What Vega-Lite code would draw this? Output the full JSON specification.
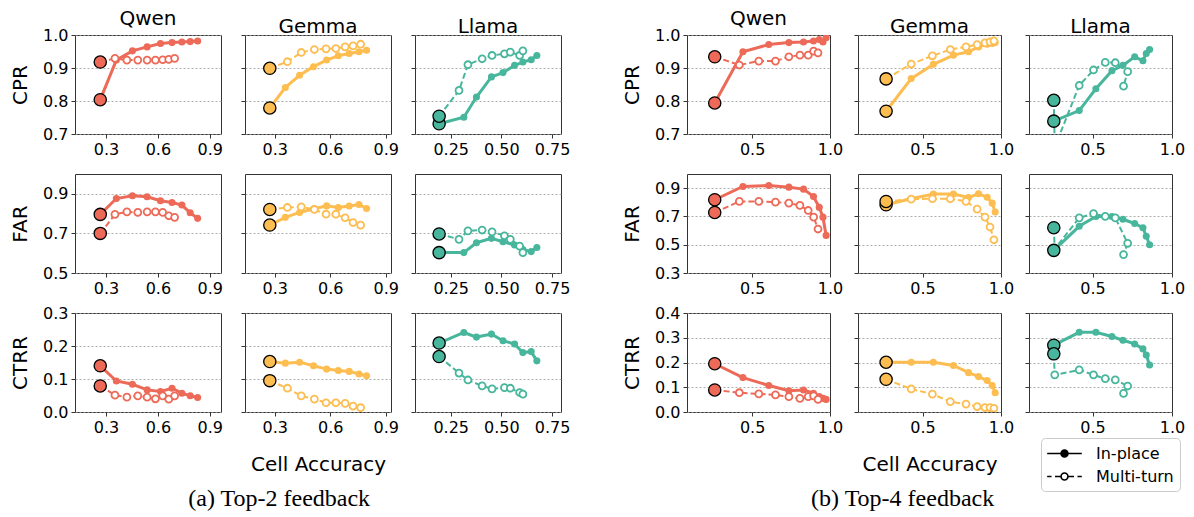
{
"$schema":"https://vega.github.io/schema/vega-lite/v6.json",
"background":"white",
"padding":{"left":10,"top":8,"right":4,"bottom":4},
"config":{
"font":"DejaVu Sans",
"view":{"stroke":"#333","strokeWidth":1},
"axis":{"domain":false,"tickColor":"#333","tickSize":4,"tickWidth":1,"labelFont":"DejaVu Sans","labelFontSize":16,"labelColor":"#000","labelPadding":3,"labelFlush":false,"labelOverlap":false,"titleFont":"DejaVu Sans","titleFontSize":20,"titleFontWeight":"normal","titleColor":"#000"},
"axisX":{"grid":false},
"axisY":{"grid":true,"gridDash":[2,2],"gridColor":"#999","gridWidth":0.8,"titlePadding":12},
"title":{"font":"DejaVu Sans","fontSize":20,"fontWeight":"normal","color":"#000","offset":-2,"anchor":"middle"}
},
"datasets":{"d":[
{"g":"a","m":"Qwen","t":"In-place","i":0,"x":0.267,"CPR":0.804,"FAR":0.796,"CTRR":0.140},
{"g":"a","m":"Qwen","t":"In-place","i":1,"x":0.36,"CPR":0.924,"FAR":0.876,"CTRR":0.094},
{"g":"a","m":"Qwen","t":"In-place","i":2,"x":0.453,"CPR":0.952,"FAR":0.890,"CTRR":0.084},
{"g":"a","m":"Qwen","t":"In-place","i":3,"x":0.538,"CPR":0.964,"FAR":0.885,"CTRR":0.067},
{"g":"a","m":"Qwen","t":"In-place","i":4,"x":0.615,"CPR":0.974,"FAR":0.865,"CTRR":0.062},
{"g":"a","m":"Qwen","t":"In-place","i":5,"x":0.682,"CPR":0.977,"FAR":0.856,"CTRR":0.072},
{"g":"a","m":"Qwen","t":"In-place","i":6,"x":0.739,"CPR":0.979,"FAR":0.843,"CTRR":0.057},
{"g":"a","m":"Qwen","t":"In-place","i":7,"x":0.787,"CPR":0.980,"FAR":0.804,"CTRR":0.049},
{"g":"a","m":"Qwen","t":"In-place","i":8,"x":0.83,"CPR":0.982,"FAR":0.776,"CTRR":0.044},
{"g":"a","m":"Qwen","t":"Multi-turn","i":0,"x":0.267,"CPR":0.918,"FAR":0.700,"CTRR":0.079},
{"g":"a","m":"Qwen","t":"Multi-turn","i":1,"x":0.352,"CPR":0.929,"FAR":0.796,"CTRR":0.051},
{"g":"a","m":"Qwen","t":"Multi-turn","i":2,"x":0.421,"CPR":0.924,"FAR":0.809,"CTRR":0.045},
{"g":"a","m":"Qwen","t":"Multi-turn","i":3,"x":0.484,"CPR":0.924,"FAR":0.806,"CTRR":0.049},
{"g":"a","m":"Qwen","t":"Multi-turn","i":4,"x":0.538,"CPR":0.924,"FAR":0.809,"CTRR":0.045},
{"g":"a","m":"Qwen","t":"Multi-turn","i":5,"x":0.586,"CPR":0.924,"FAR":0.809,"CTRR":0.040},
{"g":"a","m":"Qwen","t":"Multi-turn","i":6,"x":0.628,"CPR":0.925,"FAR":0.806,"CTRR":0.049},
{"g":"a","m":"Qwen","t":"Multi-turn","i":7,"x":0.663,"CPR":0.926,"FAR":0.789,"CTRR":0.039},
{"g":"a","m":"Qwen","t":"Multi-turn","i":8,"x":0.697,"CPR":0.929,"FAR":0.781,"CTRR":0.049},
{"g":"a","m":"Gemma","t":"In-place","i":0,"x":0.273,"CPR":0.779,"FAR":0.742,"CTRR":0.153},
{"g":"a","m":"Gemma","t":"In-place","i":1,"x":0.357,"CPR":0.841,"FAR":0.781,"CTRR":0.148},
{"g":"a","m":"Gemma","t":"In-place","i":2,"x":0.434,"CPR":0.878,"FAR":0.806,"CTRR":0.151},
{"g":"a","m":"Gemma","t":"In-place","i":3,"x":0.509,"CPR":0.904,"FAR":0.823,"CTRR":0.140},
{"g":"a","m":"Gemma","t":"In-place","i":4,"x":0.580,"CPR":0.924,"FAR":0.839,"CTRR":0.130},
{"g":"a","m":"Gemma","t":"In-place","i":5,"x":0.643,"CPR":0.937,"FAR":0.831,"CTRR":0.126},
{"g":"a","m":"Gemma","t":"In-place","i":6,"x":0.702,"CPR":0.944,"FAR":0.838,"CTRR":0.123},
{"g":"a","m":"Gemma","t":"In-place","i":7,"x":0.755,"CPR":0.949,"FAR":0.846,"CTRR":0.115},
{"g":"a","m":"Gemma","t":"In-place","i":8,"x":0.796,"CPR":0.954,"FAR":0.826,"CTRR":0.110},
{"g":"a","m":"Gemma","t":"Multi-turn","i":0,"x":0.273,"CPR":0.899,"FAR":0.821,"CTRR":0.095},
{"g":"a","m":"Gemma","t":"Multi-turn","i":1,"x":0.368,"CPR":0.919,"FAR":0.831,"CTRR":0.072},
{"g":"a","m":"Gemma","t":"Multi-turn","i":2,"x":0.443,"CPR":0.947,"FAR":0.834,"CTRR":0.049},
{"g":"a","m":"Gemma","t":"Multi-turn","i":3,"x":0.514,"CPR":0.956,"FAR":0.821,"CTRR":0.039},
{"g":"a","m":"Gemma","t":"Multi-turn","i":4,"x":0.577,"CPR":0.958,"FAR":0.797,"CTRR":0.028},
{"g":"a","m":"Gemma","t":"Multi-turn","i":5,"x":0.630,"CPR":0.959,"FAR":0.797,"CTRR":0.028},
{"g":"a","m":"Gemma","t":"Multi-turn","i":6,"x":0.680,"CPR":0.964,"FAR":0.779,"CTRR":0.026},
{"g":"a","m":"Gemma","t":"Multi-turn","i":7,"x":0.723,"CPR":0.967,"FAR":0.755,"CTRR":0.018},
{"g":"a","m":"Gemma","t":"Multi-turn","i":8,"x":0.764,"CPR":0.972,"FAR":0.742,"CTRR":0.013},
{"g":"a","m":"Llama","t":"In-place","i":0,"x":0.193,"CPR":0.731,"FAR":0.603,"CTRR":0.209},
{"g":"a","m":"Llama","t":"In-place","i":1,"x":0.315,"CPR":0.751,"FAR":0.603,"CTRR":0.241},
{"g":"a","m":"Llama","t":"In-place","i":2,"x":0.377,"CPR":0.812,"FAR":0.653,"CTRR":0.227},
{"g":"a","m":"Llama","t":"In-place","i":3,"x":0.451,"CPR":0.873,"FAR":0.675,"CTRR":0.236},
{"g":"a","m":"Llama","t":"In-place","i":4,"x":0.508,"CPR":0.886,"FAR":0.658,"CTRR":0.216},
{"g":"a","m":"Llama","t":"In-place","i":5,"x":0.565,"CPR":0.908,"FAR":0.641,"CTRR":0.206},
{"g":"a","m":"Llama","t":"In-place","i":6,"x":0.606,"CPR":0.918,"FAR":0.619,"CTRR":0.180},
{"g":"a","m":"Llama","t":"In-place","i":7,"x":0.647,"CPR":0.925,"FAR":0.608,"CTRR":0.183},
{"g":"a","m":"Llama","t":"In-place","i":8,"x":0.675,"CPR":0.938,"FAR":0.629,"CTRR":0.155},
{"g":"a","m":"Llama","t":"Multi-turn","i":0,"x":0.193,"CPR":0.754,"FAR":0.697,"CTRR":0.168},
{"g":"a","m":"Llama","t":"Multi-turn","i":1,"x":0.291,"CPR":0.832,"FAR":0.670,"CTRR":0.118},
{"g":"a","m":"Llama","t":"Multi-turn","i":2,"x":0.335,"CPR":0.910,"FAR":0.713,"CTRR":0.097},
{"g":"a","m":"Llama","t":"Multi-turn","i":3,"x":0.405,"CPR":0.928,"FAR":0.717,"CTRR":0.079},
{"g":"a","m":"Llama","t":"Multi-turn","i":4,"x":0.454,"CPR":0.938,"FAR":0.708,"CTRR":0.070},
{"g":"a","m":"Llama","t":"Multi-turn","i":5,"x":0.515,"CPR":0.943,"FAR":0.688,"CTRR":0.074},
{"g":"a","m":"Llama","t":"Multi-turn","i":6,"x":0.544,"CPR":0.948,"FAR":0.670,"CTRR":0.072},
{"g":"a","m":"Llama","t":"Multi-turn","i":7,"x":0.590,"CPR":0.938,"FAR":0.636,"CTRR":0.059},
{"g":"a","m":"Llama","t":"Multi-turn","i":8,"x":0.606,"CPR":0.952,"FAR":0.603,"CTRR":0.054},
{"g":"b","m":"Qwen","t":"In-place","i":0,"x":0.260,"CPR":0.794,"FAR":0.818,"CTRR":0.195},
{"g":"b","m":"Qwen","t":"In-place","i":1,"x":0.441,"CPR":0.949,"FAR":0.912,"CTRR":0.139},
{"g":"b","m":"Qwen","t":"In-place","i":2,"x":0.607,"CPR":0.971,"FAR":0.919,"CTRR":0.107},
{"g":"b","m":"Qwen","t":"In-place","i":3,"x":0.736,"CPR":0.977,"FAR":0.907,"CTRR":0.086},
{"g":"b","m":"Qwen","t":"In-place","i":4,"x":0.830,"CPR":0.979,"FAR":0.893,"CTRR":0.089},
{"g":"b","m":"Qwen","t":"In-place","i":5,"x":0.894,"CPR":0.982,"FAR":0.841,"CTRR":0.076},
{"g":"b","m":"Qwen","t":"In-place","i":6,"x":0.931,"CPR":0.986,"FAR":0.764,"CTRR":0.062},
{"g":"b","m":"Qwen","t":"In-place","i":7,"x":0.955,"CPR":0.979,"FAR":0.695,"CTRR":0.055},
{"g":"b","m":"Qwen","t":"In-place","i":8,"x":0.975,"CPR":0.992,"FAR":0.566,"CTRR":0.051},
{"g":"b","m":"Qwen","t":"Multi-turn","i":0,"x":0.260,"CPR":0.934,"FAR":0.728,"CTRR":0.089},
{"g":"b","m":"Qwen","t":"Multi-turn","i":1,"x":0.418,"CPR":0.909,"FAR":0.806,"CTRR":0.078},
{"g":"b","m":"Qwen","t":"Multi-turn","i":2,"x":0.543,"CPR":0.921,"FAR":0.806,"CTRR":0.073},
{"g":"b","m":"Qwen","t":"Multi-turn","i":3,"x":0.650,"CPR":0.921,"FAR":0.801,"CTRR":0.069},
{"g":"b","m":"Qwen","t":"Multi-turn","i":4,"x":0.736,"CPR":0.934,"FAR":0.794,"CTRR":0.062},
{"g":"b","m":"Qwen","t":"Multi-turn","i":5,"x":0.807,"CPR":0.939,"FAR":0.778,"CTRR":0.055},
{"g":"b","m":"Qwen","t":"Multi-turn","i":6,"x":0.860,"CPR":0.939,"FAR":0.742,"CTRR":0.062},
{"g":"b","m":"Qwen","t":"Multi-turn","i":7,"x":0.895,"CPR":0.951,"FAR":0.695,"CTRR":0.065},
{"g":"b","m":"Qwen","t":"Multi-turn","i":8,"x":0.923,"CPR":0.946,"FAR":0.611,"CTRR":0.051},
{"g":"b","m":"Gemma","t":"In-place","i":0,"x":0.268,"CPR":0.769,"FAR":0.782,"CTRR":0.201},
{"g":"b","m":"Gemma","t":"In-place","i":1,"x":0.428,"CPR":0.868,"FAR":0.825,"CTRR":0.201},
{"g":"b","m":"Gemma","t":"In-place","i":2,"x":0.569,"CPR":0.911,"FAR":0.858,"CTRR":0.201},
{"g":"b","m":"Gemma","t":"In-place","i":3,"x":0.697,"CPR":0.939,"FAR":0.858,"CTRR":0.188},
{"g":"b","m":"Gemma","t":"In-place","i":4,"x":0.793,"CPR":0.949,"FAR":0.834,"CTRR":0.159},
{"g":"b","m":"Gemma","t":"In-place","i":5,"x":0.857,"CPR":0.964,"FAR":0.860,"CTRR":0.143},
{"g":"b","m":"Gemma","t":"In-place","i":6,"x":0.912,"CPR":0.972,"FAR":0.836,"CTRR":0.127},
{"g":"b","m":"Gemma","t":"In-place","i":7,"x":0.944,"CPR":0.974,"FAR":0.794,"CTRR":0.107},
{"g":"b","m":"Gemma","t":"In-place","i":8,"x":0.963,"CPR":0.977,"FAR":0.731,"CTRR":0.078},
{"g":"b","m":"Gemma","t":"Multi-turn","i":0,"x":0.268,"CPR":0.867,"FAR":0.806,"CTRR":0.132},
{"g":"b","m":"Gemma","t":"Multi-turn","i":1,"x":0.428,"CPR":0.912,"FAR":0.822,"CTRR":0.093},
{"g":"b","m":"Gemma","t":"Multi-turn","i":2,"x":0.563,"CPR":0.937,"FAR":0.825,"CTRR":0.072},
{"g":"b","m":"Gemma","t":"Multi-turn","i":3,"x":0.677,"CPR":0.956,"FAR":0.825,"CTRR":0.042},
{"g":"b","m":"Gemma","t":"Multi-turn","i":4,"x":0.777,"CPR":0.964,"FAR":0.806,"CTRR":0.032},
{"g":"b","m":"Gemma","t":"Multi-turn","i":5,"x":0.848,"CPR":0.971,"FAR":0.752,"CTRR":0.022},
{"g":"b","m":"Gemma","t":"Multi-turn","i":6,"x":0.898,"CPR":0.976,"FAR":0.695,"CTRR":0.018},
{"g":"b","m":"Gemma","t":"Multi-turn","i":7,"x":0.930,"CPR":0.979,"FAR":0.625,"CTRR":0.018},
{"g":"b","m":"Gemma","t":"Multi-turn","i":8,"x":0.955,"CPR":0.982,"FAR":0.535,"CTRR":0.015},
{"g":"b","m":"Llama","t":"In-place","i":0,"x":0.256,"CPR":0.739,"FAR":0.46,"CTRR":0.27},
{"g":"b","m":"Llama","t":"In-place","i":1,"x":0.416,"CPR":0.771,"FAR":0.63,"CTRR":0.322},
{"g":"b","m":"Llama","t":"In-place","i":2,"x":0.521,"CPR":0.837,"FAR":0.70,"CTRR":0.322},
{"g":"b","m":"Llama","t":"In-place","i":3,"x":0.622,"CPR":0.892,"FAR":0.70,"CTRR":0.305},
{"g":"b","m":"Llama","t":"In-place","i":4,"x":0.691,"CPR":0.908,"FAR":0.68,"CTRR":0.29},
{"g":"b","m":"Llama","t":"In-place","i":5,"x":0.765,"CPR":0.934,"FAR":0.65,"CTRR":0.275},
{"g":"b","m":"Llama","t":"In-place","i":6,"x":0.817,"CPR":0.922,"FAR":0.62,"CTRR":0.255},
{"g":"b","m":"Llama","t":"In-place","i":7,"x":0.838,"CPR":0.944,"FAR":0.56,"CTRR":0.23},
{"g":"b","m":"Llama","t":"In-place","i":8,"x":0.859,"CPR":0.956,"FAR":0.50,"CTRR":0.19},
{"g":"b","m":"Llama","t":"Multi-turn","i":0,"x":0.256,"CPR":0.802,"FAR":0.62,"CTRR":0.235},
{"g":"b","m":"Llama","t":"Multi-turn","i":1,"x":0.262,"CPR":0.66,"FAR":0.47,"CTRR":0.15},
{"g":"b","m":"Llama","t":"Multi-turn","i":2,"x":0.416,"CPR":0.847,"FAR":0.69,"CTRR":0.17},
{"g":"b","m":"Llama","t":"Multi-turn","i":3,"x":0.506,"CPR":0.894,"FAR":0.72,"CTRR":0.15},
{"g":"b","m":"Llama","t":"Multi-turn","i":4,"x":0.580,"CPR":0.917,"FAR":0.70,"CTRR":0.135},
{"g":"b","m":"Llama","t":"Multi-turn","i":5,"x":0.643,"CPR":0.916,"FAR":0.69,"CTRR":0.13},
{"g":"b","m":"Llama","t":"Multi-turn","i":6,"x":0.721,"CPR":0.889,"FAR":0.51,"CTRR":0.105},
{"g":"b","m":"Llama","t":"Multi-turn","i":7,"x":0.695,"CPR":0.845,"FAR":0.43,"CTRR":0.075}
]},
"data":{"name":"d"},
"spacing":51,
"hconcat":[
{"columns":3,"bounds":"flush","spacing":{"row":40,"column":24},
"title":{"text":"(a) Top-2 feedback","orient":"bottom","font":"Liberation Serif","fontSize":24,"fontWeight":"normal","offset":12,"anchor":"middle","dx":-11},
"concat":[
{"width":146,"height":99,"title":{"text":"Qwen"},"transform":[{"filter":"datum.g=='a'&&datum.m=='Qwen'"}],
"encoding":{"x":{"field":"x","type":"quantitative","scale":{"domain":[0.121,0.965],"nice":false,"zero":false},"axis":{"values":[0.3,0.6,0.9],"format":".1f","title":null}},
"y":{"field":"CPR","type":"quantitative","scale":{"domain":[0.7,1.0],"nice":false,"zero":false},"axis":{"values":[0.7,0.8,0.9,1.0],"format":".1f","title":"CPR"}},
"order":{"field":"i","type":"quantitative"},"color":{"value":"#EC6A57"}},
"layer":[
{"transform":[{"filter":"datum.t=='In-place'"}],"mark":{"type":"line","strokeWidth":3,"clip":true}},
{"transform":[{"filter":"datum.t=='Multi-turn'"}],"mark":{"type":"line","strokeWidth":2,"strokeDash":[6,3],"clip":true}},
{"transform":[{"filter":"datum.t=='In-place'&&datum.i>0"}],"mark":{"type":"circle","size":50,"opacity":1,"clip":true}},
{"transform":[{"filter":"datum.t=='Multi-turn'&&datum.i>0"}],"mark":{"type":"point","size":48,"strokeWidth":1.8,"fill":"white","opacity":1,"clip":true}},
{"transform":[{"filter":"datum.i==0"}],"mark":{"type":"circle","size":150,"stroke":"black","strokeWidth":1.3,"opacity":1}}]},
{"width":146,"height":99,"title":{"text":"Gemma"},"transform":[{"filter":"datum.g=='a'&&datum.m=='Gemma'"}],
"encoding":{"x":{"field":"x","type":"quantitative","scale":{"domain":[0.139,0.928],"nice":false,"zero":false},"axis":{"values":[0.3,0.6,0.9],"format":".1f","title":null}},
"y":{"field":"CPR","type":"quantitative","scale":{"domain":[0.7,1.0],"nice":false,"zero":false},"axis":{"values":[0.7,0.8,0.9,1.0],"labels":false,"title":null}},
"order":{"field":"i","type":"quantitative"},"color":{"value":"#FDBD50"}},
"layer":[
{"transform":[{"filter":"datum.t=='In-place'"}],"mark":{"type":"line","strokeWidth":3,"clip":true}},
{"transform":[{"filter":"datum.t=='Multi-turn'"}],"mark":{"type":"line","strokeWidth":2,"strokeDash":[6,3],"clip":true}},
{"transform":[{"filter":"datum.t=='In-place'&&datum.i>0"}],"mark":{"type":"circle","size":50,"opacity":1,"clip":true}},
{"transform":[{"filter":"datum.t=='Multi-turn'&&datum.i>0"}],"mark":{"type":"point","size":48,"strokeWidth":1.8,"fill":"white","opacity":1,"clip":true}},
{"transform":[{"filter":"datum.i==0"}],"mark":{"type":"circle","size":150,"stroke":"black","strokeWidth":1.3,"opacity":1}}]},
{"width":146,"height":99,"title":{"text":"Llama"},"transform":[{"filter":"datum.g=='a'&&datum.m=='Llama'"}],
"encoding":{"x":{"field":"x","type":"quantitative","scale":{"domain":[0.074,0.794],"nice":false,"zero":false},"axis":{"values":[0.25,0.5,0.75],"format":".2f","title":null}},
"y":{"field":"CPR","type":"quantitative","scale":{"domain":[0.7,1.0],"nice":false,"zero":false},"axis":{"values":[0.7,0.8,0.9,1.0],"labels":false,"title":null}},
"order":{"field":"i","type":"quantitative"},"color":{"value":"#48B69C"}},
"layer":[
{"transform":[{"filter":"datum.t=='In-place'"}],"mark":{"type":"line","strokeWidth":3,"clip":true}},
{"transform":[{"filter":"datum.t=='Multi-turn'"}],"mark":{"type":"line","strokeWidth":2,"strokeDash":[6,3],"clip":true}},
{"transform":[{"filter":"datum.t=='In-place'&&datum.i>0"}],"mark":{"type":"circle","size":50,"opacity":1,"clip":true}},
{"transform":[{"filter":"datum.t=='Multi-turn'&&datum.i>0"}],"mark":{"type":"point","size":48,"strokeWidth":1.8,"fill":"white","opacity":1,"clip":true}},
{"transform":[{"filter":"datum.i==0"}],"mark":{"type":"circle","size":150,"stroke":"black","strokeWidth":1.3,"opacity":1}}]},
{"width":146,"height":99,"transform":[{"filter":"datum.g=='a'&&datum.m=='Qwen'"}],
"encoding":{"x":{"field":"x","type":"quantitative","scale":{"domain":[0.121,0.965],"nice":false,"zero":false},"axis":{"values":[0.3,0.6,0.9],"format":".1f","title":null}},
"y":{"field":"FAR","type":"quantitative","scale":{"domain":[0.5,1.0],"nice":false,"zero":false},"axis":{"values":[0.5,0.7,0.9],"format":".1f","title":"FAR"}},
"order":{"field":"i","type":"quantitative"},"color":{"value":"#EC6A57"}},
"layer":[
{"transform":[{"filter":"datum.t=='In-place'"}],"mark":{"type":"line","strokeWidth":3,"clip":true}},
{"transform":[{"filter":"datum.t=='Multi-turn'"}],"mark":{"type":"line","strokeWidth":2,"strokeDash":[6,3],"clip":true}},
{"transform":[{"filter":"datum.t=='In-place'&&datum.i>0"}],"mark":{"type":"circle","size":50,"opacity":1,"clip":true}},
{"transform":[{"filter":"datum.t=='Multi-turn'&&datum.i>0"}],"mark":{"type":"point","size":48,"strokeWidth":1.8,"fill":"white","opacity":1,"clip":true}},
{"transform":[{"filter":"datum.i==0"}],"mark":{"type":"circle","size":150,"stroke":"black","strokeWidth":1.3,"opacity":1}}]},
{"width":146,"height":99,"transform":[{"filter":"datum.g=='a'&&datum.m=='Gemma'"}],
"encoding":{"x":{"field":"x","type":"quantitative","scale":{"domain":[0.139,0.928],"nice":false,"zero":false},"axis":{"values":[0.3,0.6,0.9],"format":".1f","title":null}},
"y":{"field":"FAR","type":"quantitative","scale":{"domain":[0.5,1.0],"nice":false,"zero":false},"axis":{"values":[0.5,0.7,0.9],"labels":false,"title":null}},
"order":{"field":"i","type":"quantitative"},"color":{"value":"#FDBD50"}},
"layer":[
{"transform":[{"filter":"datum.t=='In-place'"}],"mark":{"type":"line","strokeWidth":3,"clip":true}},
{"transform":[{"filter":"datum.t=='Multi-turn'"}],"mark":{"type":"line","strokeWidth":2,"strokeDash":[6,3],"clip":true}},
{"transform":[{"filter":"datum.t=='In-place'&&datum.i>0"}],"mark":{"type":"circle","size":50,"opacity":1,"clip":true}},
{"transform":[{"filter":"datum.t=='Multi-turn'&&datum.i>0"}],"mark":{"type":"point","size":48,"strokeWidth":1.8,"fill":"white","opacity":1,"clip":true}},
{"transform":[{"filter":"datum.i==0"}],"mark":{"type":"circle","size":150,"stroke":"black","strokeWidth":1.3,"opacity":1}}]},
{"width":146,"height":99,"transform":[{"filter":"datum.g=='a'&&datum.m=='Llama'"}],
"encoding":{"x":{"field":"x","type":"quantitative","scale":{"domain":[0.074,0.794],"nice":false,"zero":false},"axis":{"values":[0.25,0.5,0.75],"format":".2f","title":null}},
"y":{"field":"FAR","type":"quantitative","scale":{"domain":[0.5,1.0],"nice":false,"zero":false},"axis":{"values":[0.5,0.7,0.9],"labels":false,"title":null}},
"order":{"field":"i","type":"quantitative"},"color":{"value":"#48B69C"}},
"layer":[
{"transform":[{"filter":"datum.t=='In-place'"}],"mark":{"type":"line","strokeWidth":3,"clip":true}},
{"transform":[{"filter":"datum.t=='Multi-turn'"}],"mark":{"type":"line","strokeWidth":2,"strokeDash":[6,3],"clip":true}},
{"transform":[{"filter":"datum.t=='In-place'&&datum.i>0"}],"mark":{"type":"circle","size":50,"opacity":1,"clip":true}},
{"transform":[{"filter":"datum.t=='Multi-turn'&&datum.i>0"}],"mark":{"type":"point","size":48,"strokeWidth":1.8,"fill":"white","opacity":1,"clip":true}},
{"transform":[{"filter":"datum.i==0"}],"mark":{"type":"circle","size":150,"stroke":"black","strokeWidth":1.3,"opacity":1}}]},
{"width":146,"height":99,"transform":[{"filter":"datum.g=='a'&&datum.m=='Qwen'"}],
"encoding":{"x":{"field":"x","type":"quantitative","scale":{"domain":[0.121,0.965],"nice":false,"zero":false},"axis":{"values":[0.3,0.6,0.9],"format":".1f","title":null}},
"y":{"field":"CTRR","type":"quantitative","scale":{"domain":[0,0.3],"nice":false,"zero":false},"axis":{"values":[0,0.1,0.2,0.3],"format":".1f","title":"CTRR"}},
"order":{"field":"i","type":"quantitative"},"color":{"value":"#EC6A57"}},
"layer":[
{"transform":[{"filter":"datum.t=='In-place'"}],"mark":{"type":"line","strokeWidth":3,"clip":true}},
{"transform":[{"filter":"datum.t=='Multi-turn'"}],"mark":{"type":"line","strokeWidth":2,"strokeDash":[6,3],"clip":true}},
{"transform":[{"filter":"datum.t=='In-place'&&datum.i>0"}],"mark":{"type":"circle","size":50,"opacity":1,"clip":true}},
{"transform":[{"filter":"datum.t=='Multi-turn'&&datum.i>0"}],"mark":{"type":"point","size":48,"strokeWidth":1.8,"fill":"white","opacity":1,"clip":true}},
{"transform":[{"filter":"datum.i==0"}],"mark":{"type":"circle","size":150,"stroke":"black","strokeWidth":1.3,"opacity":1}}]},
{"width":146,"height":99,"transform":[{"filter":"datum.g=='a'&&datum.m=='Gemma'"}],
"encoding":{"x":{"field":"x","type":"quantitative","scale":{"domain":[0.139,0.928],"nice":false,"zero":false},"axis":{"values":[0.3,0.6,0.9],"format":".1f","title":"Cell Accuracy","titlePadding":19}},
"y":{"field":"CTRR","type":"quantitative","scale":{"domain":[0,0.3],"nice":false,"zero":false},"axis":{"values":[0,0.1,0.2,0.3],"labels":false,"title":null}},
"order":{"field":"i","type":"quantitative"},"color":{"value":"#FDBD50"}},
"layer":[
{"transform":[{"filter":"datum.t=='In-place'"}],"mark":{"type":"line","strokeWidth":3,"clip":true}},
{"transform":[{"filter":"datum.t=='Multi-turn'"}],"mark":{"type":"line","strokeWidth":2,"strokeDash":[6,3],"clip":true}},
{"transform":[{"filter":"datum.t=='In-place'&&datum.i>0"}],"mark":{"type":"circle","size":50,"opacity":1,"clip":true}},
{"transform":[{"filter":"datum.t=='Multi-turn'&&datum.i>0"}],"mark":{"type":"point","size":48,"strokeWidth":1.8,"fill":"white","opacity":1,"clip":true}},
{"transform":[{"filter":"datum.i==0"}],"mark":{"type":"circle","size":150,"stroke":"black","strokeWidth":1.3,"opacity":1}}]},
{"width":146,"height":99,"transform":[{"filter":"datum.g=='a'&&datum.m=='Llama'"}],
"encoding":{"x":{"field":"x","type":"quantitative","scale":{"domain":[0.074,0.794],"nice":false,"zero":false},"axis":{"values":[0.25,0.5,0.75],"format":".2f","title":null}},
"y":{"field":"CTRR","type":"quantitative","scale":{"domain":[0,0.3],"nice":false,"zero":false},"axis":{"values":[0,0.1,0.2,0.3],"labels":false,"title":null}},
"order":{"field":"i","type":"quantitative"},"color":{"value":"#48B69C"}},
"layer":[
{"transform":[{"filter":"datum.t=='In-place'"}],"mark":{"type":"line","strokeWidth":3,"clip":true}},
{"transform":[{"filter":"datum.t=='Multi-turn'"}],"mark":{"type":"line","strokeWidth":2,"strokeDash":[6,3],"clip":true}},
{"transform":[{"filter":"datum.t=='In-place'&&datum.i>0"}],"mark":{"type":"circle","size":50,"opacity":1,"clip":true}},
{"transform":[{"filter":"datum.t=='Multi-turn'&&datum.i>0"}],"mark":{"type":"point","size":48,"strokeWidth":1.8,"fill":"white","opacity":1,"clip":true}},
{"transform":[{"filter":"datum.i==0"}],"mark":{"type":"circle","size":150,"stroke":"black","strokeWidth":1.3,"opacity":1}}]}
]},
{"columns":3,"bounds":"flush","spacing":{"row":40,"column":28},
"title":{"text":"(b) Top-4 feedback","orient":"bottom","font":"Liberation Serif","fontSize":24,"fontWeight":"normal","offset":12,"anchor":"middle","dx":-1},
"concat":[
{"width":143,"height":99,"title":{"text":"Qwen"},"transform":[{"filter":"datum.g=='b'&&datum.m=='Qwen'"}],
"encoding":{"x":{"field":"x","type":"quantitative","scale":{"domain":[0.082,1.0],"nice":false,"zero":false},"axis":{"values":[0.5,1.0],"format":".1f","title":null}},
"y":{"field":"CPR","type":"quantitative","scale":{"domain":[0.7,1.0],"nice":false,"zero":false},"axis":{"values":[0.7,0.8,0.9,1.0],"format":".1f","title":"CPR"}},
"order":{"field":"i","type":"quantitative"},"color":{"value":"#EC6A57"}},
"layer":[
{"transform":[{"filter":"datum.t=='In-place'"}],"mark":{"type":"line","strokeWidth":3,"clip":true}},
{"transform":[{"filter":"datum.t=='Multi-turn'"}],"mark":{"type":"line","strokeWidth":2,"strokeDash":[6,3],"clip":true}},
{"transform":[{"filter":"datum.t=='In-place'&&datum.i>0"}],"mark":{"type":"circle","size":50,"opacity":1,"clip":true}},
{"transform":[{"filter":"datum.t=='Multi-turn'&&datum.i>0"}],"mark":{"type":"point","size":48,"strokeWidth":1.8,"fill":"white","opacity":1,"clip":true}},
{"transform":[{"filter":"datum.i==0"}],"mark":{"type":"circle","size":150,"stroke":"black","strokeWidth":1.3,"opacity":1}}]},
{"width":143,"height":99,"title":{"text":"Gemma"},"transform":[{"filter":"datum.g=='b'&&datum.m=='Gemma'"}],
"encoding":{"x":{"field":"x","type":"quantitative","scale":{"domain":[0.089,1.0],"nice":false,"zero":false},"axis":{"values":[0.5,1.0],"format":".1f","title":null}},
"y":{"field":"CPR","type":"quantitative","scale":{"domain":[0.7,1.0],"nice":false,"zero":false},"axis":{"values":[0.7,0.8,0.9,1.0],"labels":false,"title":null}},
"order":{"field":"i","type":"quantitative"},"color":{"value":"#FDBD50"}},
"layer":[
{"transform":[{"filter":"datum.t=='In-place'"}],"mark":{"type":"line","strokeWidth":3,"clip":true}},
{"transform":[{"filter":"datum.t=='Multi-turn'"}],"mark":{"type":"line","strokeWidth":2,"strokeDash":[6,3],"clip":true}},
{"transform":[{"filter":"datum.t=='In-place'&&datum.i>0"}],"mark":{"type":"circle","size":50,"opacity":1,"clip":true}},
{"transform":[{"filter":"datum.t=='Multi-turn'&&datum.i>0"}],"mark":{"type":"point","size":48,"strokeWidth":1.8,"fill":"white","opacity":1,"clip":true}},
{"transform":[{"filter":"datum.i==0"}],"mark":{"type":"circle","size":150,"stroke":"black","strokeWidth":1.3,"opacity":1}}]},
{"width":143,"height":99,"title":{"text":"Llama"},"transform":[{"filter":"datum.g=='b'&&datum.m=='Llama'"}],
"encoding":{"x":{"field":"x","type":"quantitative","scale":{"domain":[0.1,1.0],"nice":false,"zero":false},"axis":{"values":[0.5,1.0],"format":".1f","title":null}},
"y":{"field":"CPR","type":"quantitative","scale":{"domain":[0.7,1.0],"nice":false,"zero":false},"axis":{"values":[0.7,0.8,0.9,1.0],"labels":false,"title":null}},
"order":{"field":"i","type":"quantitative"},"color":{"value":"#48B69C"}},
"layer":[
{"transform":[{"filter":"datum.t=='In-place'"}],"mark":{"type":"line","strokeWidth":3,"clip":true}},
{"transform":[{"filter":"datum.t=='Multi-turn'"}],"mark":{"type":"line","strokeWidth":2,"strokeDash":[6,3],"clip":true}},
{"transform":[{"filter":"datum.t=='In-place'&&datum.i>0"}],"mark":{"type":"circle","size":50,"opacity":1,"clip":true}},
{"transform":[{"filter":"datum.t=='Multi-turn'&&datum.i>0"}],"mark":{"type":"point","size":48,"strokeWidth":1.8,"fill":"white","opacity":1,"clip":true}},
{"transform":[{"filter":"datum.i==0"}],"mark":{"type":"circle","size":150,"stroke":"black","strokeWidth":1.3,"opacity":1}}]},
{"width":143,"height":99,"transform":[{"filter":"datum.g=='b'&&datum.m=='Qwen'"}],
"encoding":{"x":{"field":"x","type":"quantitative","scale":{"domain":[0.082,1.0],"nice":false,"zero":false},"axis":{"values":[0.5,1.0],"format":".1f","title":null}},
"y":{"field":"FAR","type":"quantitative","scale":{"domain":[0.3,1.0],"nice":false,"zero":false},"axis":{"values":[0.3,0.5,0.7,0.9],"format":".1f","title":"FAR"}},
"order":{"field":"i","type":"quantitative"},"color":{"value":"#EC6A57"}},
"layer":[
{"transform":[{"filter":"datum.t=='In-place'"}],"mark":{"type":"line","strokeWidth":3,"clip":true}},
{"transform":[{"filter":"datum.t=='Multi-turn'"}],"mark":{"type":"line","strokeWidth":2,"strokeDash":[6,3],"clip":true}},
{"transform":[{"filter":"datum.t=='In-place'&&datum.i>0"}],"mark":{"type":"circle","size":50,"opacity":1,"clip":true}},
{"transform":[{"filter":"datum.t=='Multi-turn'&&datum.i>0"}],"mark":{"type":"point","size":48,"strokeWidth":1.8,"fill":"white","opacity":1,"clip":true}},
{"transform":[{"filter":"datum.i==0"}],"mark":{"type":"circle","size":150,"stroke":"black","strokeWidth":1.3,"opacity":1}}]},
{"width":143,"height":99,"transform":[{"filter":"datum.g=='b'&&datum.m=='Gemma'"}],
"encoding":{"x":{"field":"x","type":"quantitative","scale":{"domain":[0.089,1.0],"nice":false,"zero":false},"axis":{"values":[0.5,1.0],"format":".1f","title":null}},
"y":{"field":"FAR","type":"quantitative","scale":{"domain":[0.3,1.0],"nice":false,"zero":false},"axis":{"values":[0.3,0.5,0.7,0.9],"labels":false,"title":null}},
"order":{"field":"i","type":"quantitative"},"color":{"value":"#FDBD50"}},
"layer":[
{"transform":[{"filter":"datum.t=='In-place'"}],"mark":{"type":"line","strokeWidth":3,"clip":true}},
{"transform":[{"filter":"datum.t=='Multi-turn'"}],"mark":{"type":"line","strokeWidth":2,"strokeDash":[6,3],"clip":true}},
{"transform":[{"filter":"datum.t=='In-place'&&datum.i>0"}],"mark":{"type":"circle","size":50,"opacity":1,"clip":true}},
{"transform":[{"filter":"datum.t=='Multi-turn'&&datum.i>0"}],"mark":{"type":"point","size":48,"strokeWidth":1.8,"fill":"white","opacity":1,"clip":true}},
{"transform":[{"filter":"datum.i==0"}],"mark":{"type":"circle","size":150,"stroke":"black","strokeWidth":1.3,"opacity":1}}]},
{"width":143,"height":99,"transform":[{"filter":"datum.g=='b'&&datum.m=='Llama'"}],
"encoding":{"x":{"field":"x","type":"quantitative","scale":{"domain":[0.1,1.0],"nice":false,"zero":false},"axis":{"values":[0.5,1.0],"format":".1f","title":null}},
"y":{"field":"FAR","type":"quantitative","scale":{"domain":[0.3,1.0],"nice":false,"zero":false},"axis":{"values":[0.3,0.5,0.7,0.9],"labels":false,"title":null}},
"order":{"field":"i","type":"quantitative"},"color":{"value":"#48B69C"}},
"layer":[
{"transform":[{"filter":"datum.t=='In-place'"}],"mark":{"type":"line","strokeWidth":3,"clip":true}},
{"transform":[{"filter":"datum.t=='Multi-turn'"}],"mark":{"type":"line","strokeWidth":2,"strokeDash":[6,3],"clip":true}},
{"transform":[{"filter":"datum.t=='In-place'&&datum.i>0"}],"mark":{"type":"circle","size":50,"opacity":1,"clip":true}},
{"transform":[{"filter":"datum.t=='Multi-turn'&&datum.i>0"}],"mark":{"type":"point","size":48,"strokeWidth":1.8,"fill":"white","opacity":1,"clip":true}},
{"transform":[{"filter":"datum.i==0"}],"mark":{"type":"circle","size":150,"stroke":"black","strokeWidth":1.3,"opacity":1}}]},
{"width":143,"height":99,"transform":[{"filter":"datum.g=='b'&&datum.m=='Qwen'"}],
"encoding":{"x":{"field":"x","type":"quantitative","scale":{"domain":[0.082,1.0],"nice":false,"zero":false},"axis":{"values":[0.5,1.0],"format":".1f","title":null}},
"y":{"field":"CTRR","type":"quantitative","scale":{"domain":[0,0.4],"nice":false,"zero":false},"axis":{"values":[0,0.1,0.2,0.3,0.4],"format":".1f","title":"CTRR"}},
"order":{"field":"i","type":"quantitative"},"color":{"value":"#EC6A57"}},
"layer":[
{"transform":[{"filter":"datum.t=='In-place'"}],"mark":{"type":"line","strokeWidth":3,"clip":true}},
{"transform":[{"filter":"datum.t=='Multi-turn'"}],"mark":{"type":"line","strokeWidth":2,"strokeDash":[6,3],"clip":true}},
{"transform":[{"filter":"datum.t=='In-place'&&datum.i>0"}],"mark":{"type":"circle","size":50,"opacity":1,"clip":true}},
{"transform":[{"filter":"datum.t=='Multi-turn'&&datum.i>0"}],"mark":{"type":"point","size":48,"strokeWidth":1.8,"fill":"white","opacity":1,"clip":true}},
{"transform":[{"filter":"datum.i==0"}],"mark":{"type":"circle","size":150,"stroke":"black","strokeWidth":1.3,"opacity":1}}]},
{"width":143,"height":99,"transform":[{"filter":"datum.g=='b'&&datum.m=='Gemma'"}],
"encoding":{"x":{"field":"x","type":"quantitative","scale":{"domain":[0.089,1.0],"nice":false,"zero":false},"axis":{"values":[0.5,1.0],"format":".1f","title":"Cell Accuracy","titlePadding":19}},
"y":{"field":"CTRR","type":"quantitative","scale":{"domain":[0,0.4],"nice":false,"zero":false},"axis":{"values":[0,0.1,0.2,0.3,0.4],"labels":false,"title":null}},
"order":{"field":"i","type":"quantitative"},"color":{"value":"#FDBD50"}},
"layer":[
{"transform":[{"filter":"datum.t=='In-place'"}],"mark":{"type":"line","strokeWidth":3,"clip":true}},
{"transform":[{"filter":"datum.t=='Multi-turn'"}],"mark":{"type":"line","strokeWidth":2,"strokeDash":[6,3],"clip":true}},
{"transform":[{"filter":"datum.t=='In-place'&&datum.i>0"}],"mark":{"type":"circle","size":50,"opacity":1,"clip":true}},
{"transform":[{"filter":"datum.t=='Multi-turn'&&datum.i>0"}],"mark":{"type":"point","size":48,"strokeWidth":1.8,"fill":"white","opacity":1,"clip":true}},
{"transform":[{"filter":"datum.i==0"}],"mark":{"type":"circle","size":150,"stroke":"black","strokeWidth":1.3,"opacity":1}}]},
{"width":143,"height":99,"transform":[{"filter":"datum.g=='b'&&datum.m=='Llama'"}],
"encoding":{"x":{"field":"x","type":"quantitative","scale":{"domain":[0.1,1.0],"nice":false,"zero":false},"axis":{"values":[0.5,1.0],"format":".1f","title":null}},
"y":{"field":"CTRR","type":"quantitative","scale":{"domain":[0,0.4],"nice":false,"zero":false},"axis":{"values":[0,0.1,0.2,0.3,0.4],"labels":false,"title":null}},
"order":{"field":"i","type":"quantitative"},"color":{"value":"#48B69C"}},
"layer":[
{"transform":[{"filter":"datum.t=='In-place'"}],"mark":{"type":"line","strokeWidth":3,"clip":true}},
{"transform":[{"filter":"datum.t=='Multi-turn'"}],"mark":{"type":"line","strokeWidth":2,"strokeDash":[6,3],"clip":true}},
{"transform":[{"filter":"datum.t=='In-place'&&datum.i>0"}],"mark":{"type":"circle","size":50,"opacity":1,"clip":true}},
{"transform":[{"filter":"datum.t=='Multi-turn'&&datum.i>0"}],"mark":{"type":"point","size":48,"strokeWidth":1.8,"fill":"white","opacity":1,"clip":true}},
{"transform":[{"filter":"datum.i==0"}],"mark":{"type":"circle","size":150,"stroke":"black","strokeWidth":1.3,"opacity":1}},
{"transform":[{"filter":"datum.i<0"}],"mark":{"type":"point","filled":true,"strokeWidth":1.6,"opacity":1},
"encoding":{
"shape":{"field":"t","type":"nominal","scale":{"domain":["In-place","Multi-turn"],"range":["M-2,0H-0.4M0.4,0H2M0.4,0A0.4,0.4,0,1,1,-0.4,0A0.4,0.4,0,1,1,0.4,0Z","M-2,0H-1.5M-1.1,0H-0.4M0.4,0H1.1M1.5,0H2M0.4,0A0.4,0.4,0,1,1,-0.4,0A0.4,0.4,0,1,1,0.4,0Z"]},
"legend":{"orient":"none","legendX":966,"legendY":403,"title":null,"labelFont":"DejaVu Sans","labelFontSize":16,"labelColor":"#000","symbolSize":300,"symbolStrokeWidth":1.6,"symbolOffset":8,"labelOffset":22,"padding":6,"rowPadding":5,"strokeColor":"#cccccc","fillColor":"white","cornerRadius":4}},
"fill":{"field":"t","type":"nominal","scale":{"domain":["In-place","Multi-turn"],"range":["black","white"]},
"legend":{"orient":"none","legendX":966,"legendY":403,"title":null,"labelFont":"DejaVu Sans","labelFontSize":16,"labelColor":"#000","symbolSize":300,"symbolStrokeWidth":1.6,"symbolOffset":8,"labelOffset":22,"padding":6,"rowPadding":5,"strokeColor":"#cccccc","fillColor":"white","cornerRadius":4}},
"stroke":{"field":"t","type":"nominal","scale":{"domain":["In-place","Multi-turn"],"range":["black","black"]},
"legend":{"orient":"none","legendX":966,"legendY":403,"title":null,"labelFont":"DejaVu Sans","labelFontSize":16,"labelColor":"#000","symbolSize":300,"symbolStrokeWidth":1.6,"symbolOffset":8,"labelOffset":22,"padding":6,"rowPadding":5,"strokeColor":"#cccccc","fillColor":"white","cornerRadius":4}}}}
]}
]}
]
}
